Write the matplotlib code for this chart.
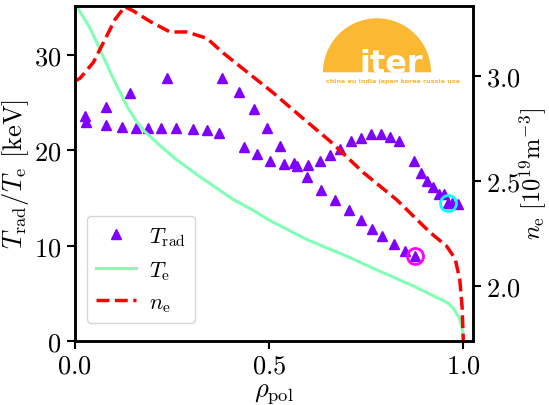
import matplotlib
matplotlib.use("Agg")
import matplotlib.pyplot as plt
from matplotlib.patches import Wedge

# Radiation temperature from the ECE channels
rho_trad = [0.027, 0.029, 0.080, 0.081, 0.123, 0.143, 0.157, 0.189, 0.221, 0.238,
            0.261, 0.304, 0.340, 0.372, 0.378, 0.423, 0.436, 0.461, 0.470, 0.496,
            0.503, 0.528, 0.539, 0.565, 0.571, 0.598, 0.600, 0.631, 0.634, 0.658,
            0.671, 0.683, 0.706, 0.710, 0.736, 0.738, 0.764, 0.763, 0.788, 0.792,
            0.811, 0.821, 0.834, 0.849, 0.873, 0.876, 0.890, 0.907, 0.922, 0.937,
            0.950, 0.961, 0.972, 0.987]
t_rad = [23.6, 23.0, 22.7, 24.6, 22.5, 26.0, 22.4, 22.4, 22.4, 27.6,
         22.4, 22.3, 22.1, 21.8, 27.6, 26.1, 20.4, 24.4, 19.6, 22.4,
         18.9, 20.5, 18.6, 18.7, 18.4, 17.2, 18.5, 18.9, 15.9, 19.5,
         14.8, 20.2, 13.8, 21.0, 12.7, 21.3, 11.8, 21.7, 21.7, 11.0,
         21.4, 10.2, 21.0, 9.5, 18.9, 8.9, 17.6, 16.8, 16.2, 15.4,
         15.4, 14.5, 14.5, 14.4]

# Highlighted channels
mark_rho = [0.876, 0.961]
mark_t = [8.9, 14.5]
mark_colors = ["#ff00ff", "#00ffff"]

# Electron temperature profile
rho_te = [0.0, 0.01, 0.04, 0.065, 0.10, 0.135, 0.16, 0.18, 0.22, 0.26, 0.32,
          0.41, 0.46, 0.50, 0.60, 0.70, 0.77, 0.87, 0.96, 0.975, 0.99, 0.997, 1.0]
t_e = [35.6, 34.8, 32.8, 30.6, 27.5, 24.6, 23.0, 22.0, 20.5, 19.1, 17.3,
       14.8, 13.7, 12.7, 10.6, 8.9, 7.6, 5.8, 4.0, 3.4, 2.4, 1.3, 0.5]

# Electron density profile
rho_ne = [0.0, 0.014, 0.048, 0.074, 0.104, 0.129, 0.151, 0.194, 0.245, 0.288,
          0.34, 0.382, 0.443, 0.511, 0.58, 0.657, 0.743, 0.829, 0.914, 0.957,
          0.979, 0.991, 0.997, 1.0]
n_e = [2.975, 2.99, 3.065, 3.16, 3.27, 3.33, 3.31, 3.26, 3.21, 3.21,
       3.18, 3.11, 3.02, 2.92, 2.81, 2.69, 2.54, 2.41, 2.256, 2.19,
       2.13, 2.03, 1.90, 1.74]

x_ticks = [0.0, 0.5, 1.0]
t_ticks = [0, 10, 20, 30]
n_ticks = [2.0, 2.5, 3.0]

cmap = plt.get_cmap("rainbow")
c_trad, c_te, c_ne = cmap(0.0), cmap(0.5), cmap(1.0)

plt.rcParams.update({
    "font.family": "serif",
    "font.serif": ["cmr10"],
    "mathtext.fontset": "cm",
    "axes.formatter.use_mathtext": True,
    "font.size": 19,
    "axes.linewidth": 1.8,
    "xtick.major.width": 1.5,
    "ytick.major.width": 1.5,
    "xtick.major.size": 6,
    "ytick.major.size": 6,
})

W, H = 549, 406
fig = plt.figure(figsize=(W / 100, H / 100), dpi=100)
ax = fig.add_axes([74.7 / W, (H - 342) / H, (473 - 74.7) / W, (342 - 6.7) / H])

h_trad, = ax.plot(rho_trad, t_rad, "^", ls="none", color=c_trad, ms=7,
                  mec=c_trad, label=r"$T_\mathrm{rad}$")
for r, t, c in zip(mark_rho, mark_t, mark_colors):
    ax.plot([r], [t], "o", mfc="none", mec=c, ms=11.5, mew=2.0)
h_te, = ax.plot(rho_te, t_e, "-", color=c_te, lw=2.2, label=r"$T_\mathrm{e}$")

ax.set_xlim(0, 1.025)
ax.set_ylim(0, 35.2)
ax.set_xticks(x_ticks)
ax.set_yticks(t_ticks)
ax.set_xlabel(r"$\rho_\mathrm{pol}$", labelpad=2)
ax.set_ylabel(r"$T_\mathrm{rad}/T_\mathrm{e}$ [keV]", labelpad=2)

ax2 = ax.twinx()
h_ne, = ax2.plot(rho_ne, n_e, "--", color=c_ne, lw=2.5, label=r"$n_\mathrm{e}$")
ax2.set_ylim(1.738, 3.335)
ax2.set_yticks(n_ticks)
ax2.set_ylabel(r"$n_\mathrm{e}\ [10^{19}\mathrm{m}^{-3}]$", labelpad=-2,
               fontsize=17.5)

leg = ax.legend(handles=[h_trad, h_te, h_ne], loc="lower left",
                bbox_to_anchor=(0.031, 0.054), borderaxespad=0,
                fontsize=16, handlelength=1.8, handletextpad=0.6)

# ITER logo
lg = fig.add_axes([318 / W, (H - 90) / H, 150 / W, 80 / H])
lg.set_xlim(318, 468)
lg.set_ylim(H - 90, H - 10)
lg.axis("off")
orange = "#fbb832"
base = H - 73.3
lg.add_patch(Wedge((377, base), 54, 0, 180, color=orange, lw=0))
lg.text(391, base, "iter", color="white", fontsize=23, fontweight="bold",
        family="DejaVu Sans", ha="center", va="baseline")
lg.text(393, H - 81.5, "china eu india japan korea russia usa", color=orange,
        fontsize=4.6, fontweight="bold", family="DejaVu Sans",
        ha="center", va="center")

fig.savefig("out.png", dpi=100)
